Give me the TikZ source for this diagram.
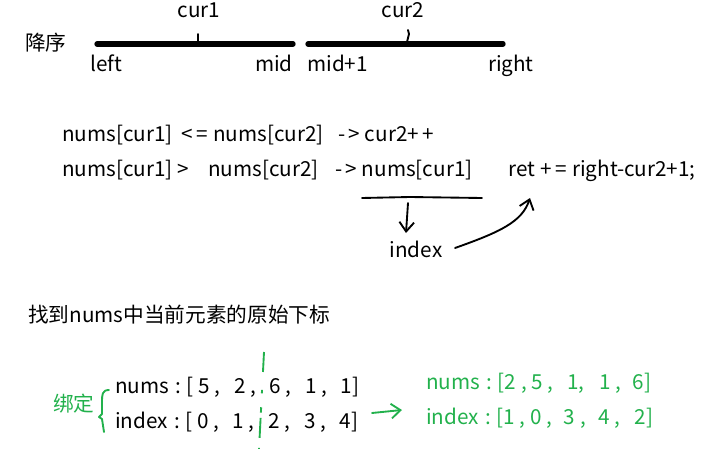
\documentclass[tikz,border=0pt]{standalone}
\usepackage{fontspec}
\setmainfont{Noto Sans CJK SC}
\usetikzlibrary{arrows.meta}
\definecolor{pengreen}{RGB}{34,177,76}
\newcommand{\gp}[1]{\hspace{#1pt}}
\tikzset{
  txt/.style={anchor=base west, inner sep=0pt, font=\fontsize{15.5}{18}\selectfont},
  ctxt/.style={txt, anchor=base},
  seg/.style={line width=4pt, line cap=round},
  pen/.style={line width=1.4pt, line cap=round, line join=round},
  gpen/.style={pen, color=pengreen},
  barb/.style={-{Straight Barb[length=7pt,width=11pt]}},
}
\begin{document}
\begin{tikzpicture}[x=0.75pt, y=-0.75pt]
    \useasboundingbox (0,0) rectangle (720,449);
    % the two halves
    \node[txt] (desc) at (25,51) {降序};
    \coordinate (la) at (97,44);
    \coordinate (lb) at (293,44);
    \coordinate (ra) at (308,44);
    \coordinate (rb) at (503,44);
    \draw[seg] (la) -- (lb);
    \draw[seg] (ra) -- (rb);
    \draw[pen] (198,34) -- (198,46);
    \draw[pen] (408,30) -- (409,34) -- (407,42);
    \node[ctxt] (cur1) at (199,18) {cur1};
    \node[ctxt] (cur2) at (403,18) {cur2};
    \node[txt] (left) at (90,72) {left};
    \node[txt, anchor=base east] (mid) at (293,72) {mid};
    \node[txt] (mid1) at (307,72) {mid+1};
    \node[txt, anchor=base east] (right) at (534,72) {right};
    % the two cases
    \node[txt] (le) at (62,142) {nums[cur1]\gp{6.5}<\,=\gp{4}nums[cur2]};
    \node[txt] (inc) at (338,142) {-\,> cur2+\,+};
    \node[txt] (gt) at (62,176) {nums[cur1] >};
    \node[txt] (c2) at (208,176) {nums[cur2]};
    \node[txt] (to) at (335,176) {-\,> nums[cur1]};
    \node[txt] (ret) at (508,176) {ret\gp{4}+\,=\gp{4}right-cur2+1;};
    \coordinate (u1) at (362,198);
    \coordinate (u2) at (410,197);
    \coordinate (u3) at (482,198);
    \draw[pen] (u1) -- (u2) -- (u3);
    \coordinate (d1) at (408,203);
    \coordinate (d2) at (406,233);
    \draw[pen, barb] (d1) -- (d2);
    \node[ctxt] (index) at (416,257) {index};
    \coordinate (r1) at (455,248);
    \coordinate (r2) at (530,198);
    \draw[pen, barb] (r1) .. controls (500,232) and (522,222) .. (r2);
    % binding index to nums
    \node[txt] (find) at (28,322) {找到nums中当前元素的原始下标};
    \node[txt, color=pengreen] (bind) at (53,411) {绑定};
    \draw[gpen] (109,390) .. controls (102,390) and (102,395) .. (102,402) -- (102,414)
        -- (99,417) -- (102,419) -- (104,432);
    \node[txt] (nums) at (115,393) {nums\gp{5}:\gp{4}[ 5 ,\gp{10.3}2 ,\gp{10.3}6 ,\gp{10.3}1 ,\gp{10.3}1]};
    \node[txt] (idx) at (115,428) {index\gp{5}:\gp{4}[ 0 ,\gp{10.3}1 ,\gp{10.3}2 ,\gp{10.3}3 ,\gp{10.3}4]};
    \draw[gpen, line cap=butt, dash pattern=on 15pt off 13.5pt on 2.5pt off 10.5pt on 4pt off 4pt on 15pt off 7.5pt on 1.5pt]
        (264,352) -- (259,449);
    \coordinate (g1) at (372,413);
    \coordinate (g2) at (402,410);
    \draw[gpen, barb] (g1) -- (g2);
    \node[txt, color=pengreen] (snums) at (426,389) {nums\gp{5}:\gp{4}[2 , 5 ,\gp{10.5}1,\gp{11}1 ,\gp{8.7}6]};
    \node[txt, color=pengreen] (sidx) at (426,424) {index\gp{5}:\gp{4}[1 , 0 ,\gp{9}3 ,\gp{9.4}4 ,\gp{10.9}2]};
\end{tikzpicture}
\end{document}
